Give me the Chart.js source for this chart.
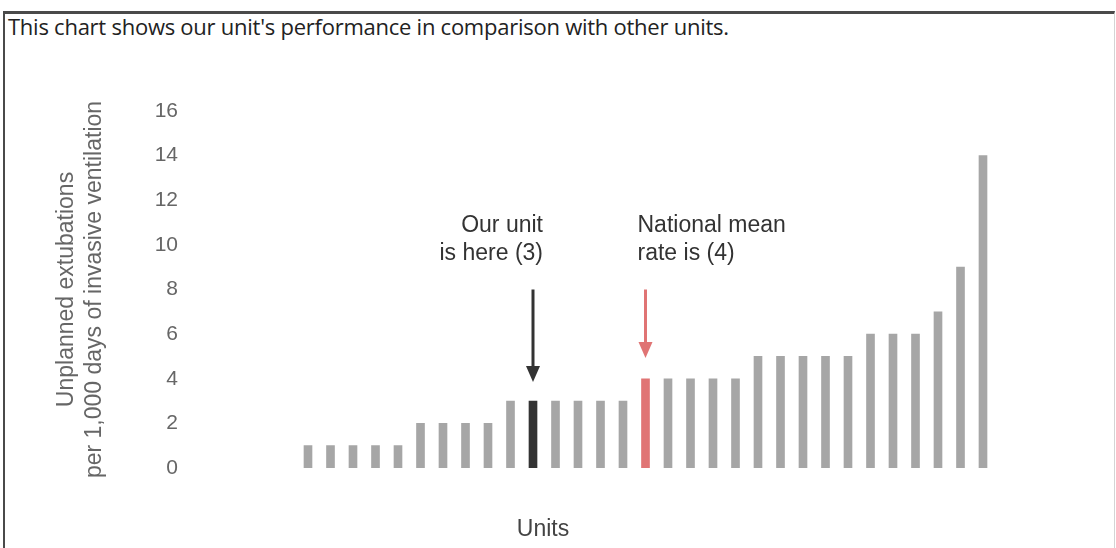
<!DOCTYPE html>
<html>
<head>
<meta charset="utf-8">
<script src="https://cdn.jsdelivr.net/npm/chart.js@4"></script>
<style>
  html, body { margin: 0; padding: 0; background: #fff; }
  body { width: 1116px; height: 548px; position: relative; overflow: hidden; }
  #frame {
    position: absolute; left: 3px; top: 11px; width: 1109px; height: 560px;
    border-top: 3px solid #4a4a4a; border-left: 2px solid #4a4a4a; border-right: 1px solid #d4d4d4;
  }
  #caption {
    position: absolute; left: 8px; top: 11px; line-height: 30px;
    font-family: 'Open Sans', sans-serif; font-size: 22px; letter-spacing: -0.25px;
    color: #222; white-space: nowrap;
  }
  #chart-wrap { position: absolute; left: 0; top: 0; width: 1116px; height: 548px; }
</style>
</head>
<body>
<div id="frame"></div>
<div id="caption">This chart shows our unit's performance in comparison with other units.</div>
<div id="chart-wrap"><canvas id="chart-units"></canvas></div>
<script>
const rates = [1, 1, 1, 1, 1, 2, 2, 2, 2, 3, 3, 3, 3, 3, 3, 4, 4, 4, 4, 4, 5, 5, 5, 5, 5, 6, 6, 6, 7, 9, 14];
const units = rates.map((v, i) => 'Unit ' + (i + 1));
const yTicks = [0, 2, 4, 6, 8, 10, 12, 14, 16];
const ourUnitIndex = 10;
const meanIndex = 15;

const arrows = [
  { index: ourUnitIndex, from: 8, to: 3.85, color: '#333333', lines: ['Our unit', 'is here (3)'], align: 'right', dx: 10 },
  { index: meanIndex, from: 8, to: 4.93, color: '#e07474', lines: ['National mean', 'rate is (4)'], align: 'left', dx: -8 }
];

const barColors = rates.map((v, i) => i === ourUnitIndex ? '#333333' : i === meanIndex ? '#e07474' : '#a6a6a6');

const FONT = '"Liberation Sans", Arial, sans-serif';

const annotationPlugin = {
  id: 'annotations',
  afterDatasetsDraw(chart) {
    const ctx = chart.ctx;
    const x = chart.scales.x;
    const y = chart.scales.y;
    ctx.save();
    arrows.forEach(a => {
      const px = x.getPixelForValue(a.index);
      const top = y.getPixelForValue(a.from);
      const tip = y.getPixelForValue(a.to);
      const head = 16;
      ctx.strokeStyle = a.color;
      ctx.fillStyle = a.color;
      ctx.lineWidth = 3;
      ctx.beginPath();
      ctx.moveTo(px, top);
      ctx.lineTo(px, tip - head + 2);
      ctx.stroke();
      ctx.beginPath();
      ctx.moveTo(px - 7, tip - head);
      ctx.lineTo(px + 7, tip - head);
      ctx.lineTo(px, tip);
      ctx.closePath();
      ctx.fill();

      ctx.font = '23px ' + FONT;
      ctx.fillStyle = '#333';
      ctx.textAlign = a.align;
      ctx.textBaseline = 'middle';
      ctx.fillText(a.lines[0], px + a.dx, top - 64);
      ctx.fillText(a.lines[1], px + a.dx, top - 36);
    });
    // x axis title sits left of the plot centre in the original
    ctx.font = '23px ' + FONT;
    ctx.fillStyle = '#444';
    ctx.textAlign = 'center';
    ctx.textBaseline = 'middle';
    ctx.fillText('Units', 543, 530);
    ctx.restore();
  }
};

new Chart(document.getElementById('chart-units'), {
  type: 'bar',
  data: {
    labels: units,
    datasets: [{ label: 'Rate', data: rates, backgroundColor: barColors, barThickness: 8 }]
  },
  options: {
    animation: false,
    responsive: true,
    maintainAspectRatio: false,
    layout: { padding: { top: 111, bottom: 80, left: 0, right: 121.75 } },
    plugins: { legend: { display: false }, tooltip: { enabled: false } },
    scales: {
      x: { display: false, offset: true },
      y: {
        min: 0,
        max: 16,
        afterFit: s => {
          s.width = 296.75;
          // big tick padding would otherwise push the plot in vertically
          s.paddingTop = 12;
          s.paddingBottom = 12;
        },
        afterBuildTicks: s => { s.ticks = yTicks.map(v => ({ value: v })); },
        grid: { display: false, drawTicks: false },
        border: { display: false },
        ticks: { color: '#666', padding: 118.75, font: { size: 21, family: FONT } },
        title: {
          display: true,
          text: ['Unplanned extubations', 'per 1,000 days of invasive ventilation'],
          color: '#666',
          font: { size: 23, family: FONT, lineHeight: 1.22 },
          padding: { top: 53, bottom: 0 }
        }
      }
    }
  },
  plugins: [annotationPlugin]
});
</script>
</body>
</html>
